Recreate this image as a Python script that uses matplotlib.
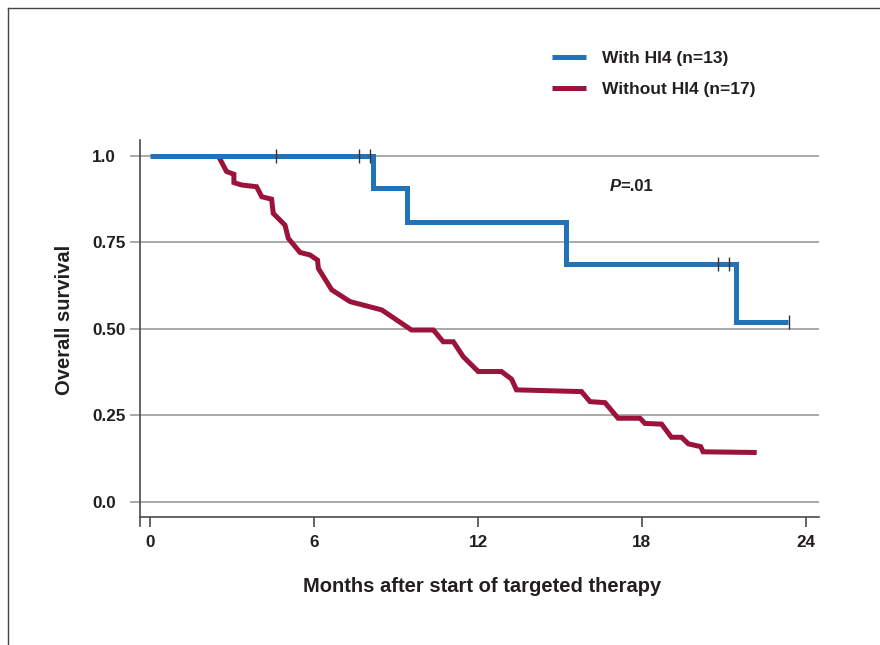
import matplotlib
matplotlib.use('Agg')
import matplotlib.pyplot as plt
from matplotlib.lines import Line2D

plt.rcParams['font.family'] = ['Liberation Sans', 'DejaVu Sans']

# ---------------- data ----------------
# With HI4 (Kaplan-Meier step curve)
with_times = [0.0, 8.17, 9.39, 15.21, 21.43, 23.36]
with_surv = [1.0, 0.907, 0.808, 0.688, 0.519, 0.519]
with_censor_t = [4.6, 7.63, 8.05, 20.77, 21.19, 23.39]
with_censor_s = [1.0, 1.0, 1.0, 0.688, 0.688, 0.519]

# Without HI4 (as drawn, polyline)
without_times = [2.50, 2.80, 3.07, 3.07, 3.35, 3.90, 4.09, 4.45, 4.51, 4.94,
                 5.06, 5.49, 5.85, 6.13, 6.16, 6.65, 7.32, 8.48, 9.57, 10.37,
                 10.73, 11.10, 11.46, 12.01, 12.86, 13.23, 13.41, 15.79, 16.10,
                 16.65, 17.13, 17.93, 18.11, 18.72, 19.08, 19.45, 19.70, 20.15,
                 20.24, 22.20]
without_surv = [1.0, 0.955, 0.947, 0.923, 0.916, 0.911, 0.882, 0.875, 0.834, 0.800,
                0.762, 0.721, 0.714, 0.699, 0.675, 0.613, 0.579, 0.555, 0.497, 0.497,
                0.463, 0.463, 0.420, 0.377, 0.377, 0.355, 0.324, 0.319, 0.290,
                0.287, 0.242, 0.242, 0.227, 0.225, 0.187, 0.187, 0.168, 0.160,
                0.145, 0.143]

x_ticks = [0, 6, 12, 18, 24]
y_ticks = [0.0, 0.25, 0.50, 0.75, 1.0]
y_tick_labels = ['0.0', '0.25', '0.50', '0.75', '1.0']
legend_labels = ['With HI4 (n=13)', 'Without HI4 (n=17)']
x_label = 'Months after start of targeted therapy'
y_label = 'Overall survival'

# ---------------- style ----------------
BLUE = '#2272b8'
RED = '#9b133a'
TEXT = '#231f20'
GRID = '#a3a3a3'
SPINE = '#4a4a4a'

W, H = 880, 645
fig = plt.figure(figsize=(8.8, 6.45), dpi=100)


def fx(px):
    return px / W


def fy(py):
    return 1 - py / H


ax = fig.add_axes([fx(140), fy(526), fx(819) - fx(140), fy(140) - fy(526)])
ax.set_xlim(-0.366, 24.48)
ax.set_ylim(-0.0694, 1.046)

for s in ['top', 'right']:
    ax.spines[s].set_visible(False)
ax.spines['bottom'].set_position(('data', -0.0434))
for s in ['left', 'bottom']:
    ax.spines[s].set_color(SPINE)
    ax.spines[s].set_linewidth(1.2)

ax.set_yticks(y_ticks)
ax.set_yticklabels(y_tick_labels)
ax.set_xticks(x_ticks)
ax.set_xticklabels([str(t) for t in x_ticks])

ax.yaxis.grid(True, color=GRID, lw=1.3)
ax.set_axisbelow(True)
ax.tick_params(axis='y', direction='out', length=7.2, width=1.3, color=GRID,
               pad=27.4, labelsize=12.3, labelcolor=TEXT)
ax.tick_params(axis='x', direction='out', length=7.2, width=1.2, color=SPINE,
               pad=5.5, labelsize=12.3, labelcolor=TEXT)
for lab in ax.get_yticklabels() + ax.get_xticklabels():
    lab.set_fontweight('bold')
for lab in ax.get_yticklabels():
    lab.set_horizontalalignment('left')

# curves
ax.plot(without_times, without_surv, color=RED, lw=3.6,
        solid_joinstyle='miter', solid_capstyle='butt', zorder=3)
ax.plot(with_times, with_surv, color=BLUE, lw=3.6, drawstyle='steps-post',
        solid_joinstyle='miter', solid_capstyle='butt', zorder=4)
ax.plot(with_censor_t, with_censor_s, ls='none', marker='|', ms=10, mew=1.0,
        color='#333333', zorder=5)

# legend
handles = [Line2D([], [], color=BLUE, lw=3.6, solid_capstyle='butt'),
           Line2D([], [], color=RED, lw=3.6, solid_capstyle='butt')]
leg = fig.legend(handles, legend_labels, loc='upper left',
                 bbox_to_anchor=(fx(552), fy(51)), frameon=False,
                 borderpad=0, borderaxespad=0, handlelength=1.95,
                 handletextpad=0.92, labelspacing=0.88,
                 prop={'weight': 'bold', 'size': 12.5})
for t in leg.get_texts():
    t.set_color(TEXT)

# P value
fig.text(fx(610), fy(191), 'P', fontsize=12, fontweight='bold',
         fontstyle='italic', color=TEXT, ha='left', va='baseline')
fig.text(fx(620.5), fy(191), '=.01', fontsize=12, fontweight='bold',
         color=TEXT, ha='left', va='baseline')

# axis labels
fig.text(fx(482), fy(592), x_label, fontsize=14.5, fontweight='bold',
         color=TEXT, ha='center', va='baseline')
fig.text(fx(70), fy(320), y_label, fontsize=14.5, fontweight='bold',
         color=TEXT, ha='center', va='baseline', rotation=90,
         rotation_mode='anchor')

# partial frame (top and left border)
fig.add_artist(Line2D([fx(8), 1], [fy(8), fy(8)], color='#444444', lw=1.0))
fig.add_artist(Line2D([fx(8), fx(8)], [fy(8), 0], color='#444444', lw=1.0))

fig.savefig('out.png', dpi=100)
